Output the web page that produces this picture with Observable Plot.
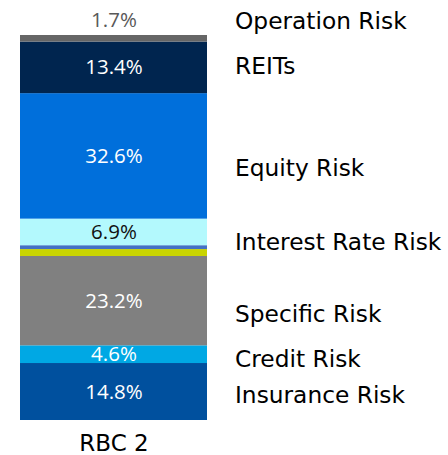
<!DOCTYPE html>
<html>
<head>
<meta charset="utf-8">
<script src="https://cdn.jsdelivr.net/npm/d3@7"></script>
<script src="https://cdn.jsdelivr.net/npm/@observablehq/plot@0.6"></script>
<style>
  html, body { margin: 0; padding: 0; background: #fff; }
  #chart svg { display: block; }
</style>
</head>
<body>
<div id="chart"></div>
<script>
// ---- data ----
const barNames = ["RBC 2"];
const categories = ["Insurance Risk", "Credit Risk", "Specific Risk", "Unlabelled 1", "Unlabelled 2", "Interest Rate Risk", "Equity Risk", "REITs", "Operation Risk"];
const values = [14.8, 4.6, 23.2, 1.8, 1.0, 6.9, 32.6, 13.4, 1.7];
const valueLabels = ["14.8%", "4.6%", "23.2%", "", "", "6.9%", "32.6%", "13.4%", "1.7%"];
const legendLabels = ["Insurance Risk", "Credit Risk", "Specific Risk", "", "", "Interest Rate Risk", "Equity Risk", "REITs", "Operation Risk"];

// ---- styles ----
const colors = ["#00509e", "#00a8e4", "#808080", "#c9d400", "#4472c4", "#b3f9fd", "#006fdb", "#00254f", "#666666"];
const valueColors = ["#ffffff", "#ffffff", "#ffffff", "#ffffff", "#ffffff", "#111111", "#ffffff", "#ffffff", "#595959"];
const valueDy = [0, 0, 0, 0, 0, 0, 0, 0, -18];
const legendDy = [4, 5, 13.5, 0, 0, 10, 12, -1.5, -17];

// ---- table ----
const ends = d3.cumsum(values);
const rows = categories.map((c, i) => ({
  bar: barNames[0],
  name: c,
  value: values[i],
  y1: ends[i] - values[i],
  y2: ends[i],
  mid: ends[i] - values[i] / 2,
  label: valueLabels[i],
  legend: legendLabels[i],
  i
}));

const chart = Plot.plot({
  width: 448,
  height: 455,
  marginTop: 35,
  marginBottom: 35,
  marginLeft: 20,
  marginRight: 241,
  x: { domain: barNames, padding: 0 },
  y: { domain: [0, 100], axis: null },
  color: { domain: categories, range: colors },
  marks: [
    Plot.barY(rows, { x: "bar", y1: "y1", y2: "y2", fill: "name" }),
    ...rows.filter(d => d.label).map(d => Plot.text([d], {
      x: "bar", y: "mid", text: "label",
      fill: valueColors[d.i], dy: valueDy[d.i],
      fontFamily: "Open Sans", fontSize: 20.5, lineAnchor: "middle"
    })),
    ...rows.filter(d => d.legend).map(d => Plot.text([d], {
      x: "bar", y: "mid", text: "legend",
      fill: "#000", dx: 121, dy: legendDy[d.i], textAnchor: "start",
      fontFamily: "DejaVu Sans", fontSize: 23.3, lineAnchor: "middle"
    })),
    Plot.axisX({ tickSize: 0, tickPadding: 14, fontSize: 23, fontFamily: "DejaVu Sans", label: null, fill: "#000" })
  ]
});
document.getElementById("chart").append(chart);
</script>
</body>
</html>
